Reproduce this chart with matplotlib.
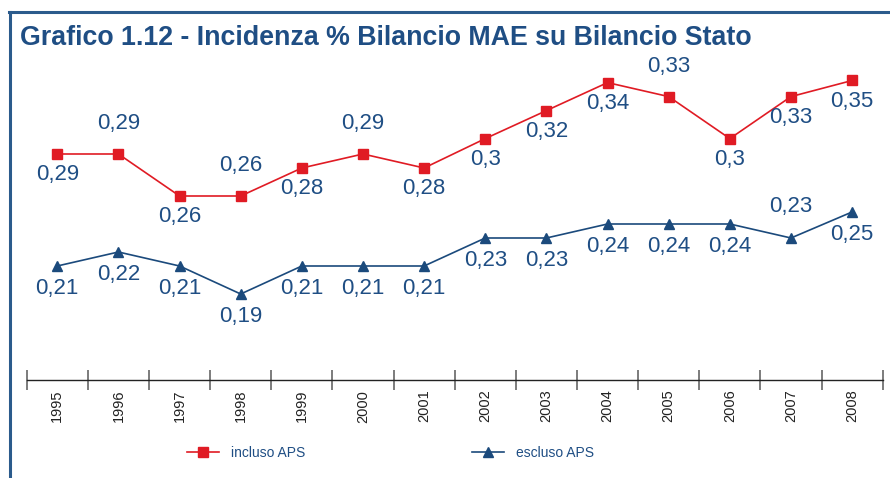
import matplotlib.pyplot as plt
from matplotlib.lines import Line2D

years = ["1995", "1996", "1997", "1998", "1999", "2000", "2001",
         "2002", "2003", "2004", "2005", "2006", "2007", "2008"]

incluso = [0.29, 0.29, 0.26, 0.26, 0.28, 0.29, 0.28,
           0.301, 0.321, 0.341, 0.331, 0.301, 0.331, 0.3425]
incluso_labels = ["0,29", "0,29", "0,26", "0,26", "0,28", "0,29", "0,28",
                  "0,3", "0,32", "0,34", "0,33", "0,3", "0,33", "0,35"]
incluso_above = [False, True, False, True, False, True, False,
                 False, False, False, True, False, False, False]

escluso = [0.21, 0.22, 0.21, 0.19, 0.21, 0.21, 0.21,
           0.23, 0.23, 0.24, 0.24, 0.24, 0.23, 0.2486]
escluso_labels = ["0,21", "0,22", "0,21", "0,19", "0,21", "0,21", "0,21",
                  "0,23", "0,23", "0,24", "0,24", "0,24", "0,23", "0,25"]
escluso_above = [False] * 12 + [True, False]

RED = "#e01b24"
BLUE = "#1b4a7c"
TEXT = "#1f4e84"
W, H = 890, 478

plt.rcParams['font.family'] = ['Liberation Sans', 'DejaVu Sans']

fig = plt.figure(figsize=(W / 100, H / 100), dpi=100)

# frame lines (top and left)
fig.add_artist(Line2D([9 / W, 1], [1 - 12 / H, 1 - 12 / H], color="#2b5b8c", lw=2.2))
fig.add_artist(Line2D([10 / W, 10 / W], [0, 1 - 12 / H], color="#2b5b8c", lw=2.2))

fig.text(20 / W, 1 - 38 / H, "Grafico 1.12 - Incidenza % Bilancio MAE su Bilancio Stato",
         fontsize=19.3, fontweight="bold", color=TEXT, va="center", ha="left")

ax_l, ax_r = 26.7 / W, 882.7 / W
ax_b, ax_t = 1 - 380 / H, 1 - 60 / H
ax = fig.add_axes([ax_l, ax_b, ax_r - ax_l, ax_t - ax_b])

x = list(range(len(years)))
ax.plot(x, incluso, color=RED, lw=1.2, marker="s", ms=7, label="incluso APS")
ax.plot(x, escluso, color=BLUE, lw=1.2, marker="^", ms=7.5, label="escluso APS")

for xi, v, lab, up in zip(x, incluso, incluso_labels, incluso_above):
    ax.annotate(lab, (xi, v), xytext=(0, 30 if up else -21), textcoords="offset pixels",
                ha="center", va="center", fontsize=16, color=TEXT)
for xi, v, lab, up in zip(x, escluso, escluso_labels, escluso_above):
    ax.annotate(lab, (xi, v), xytext=(0, 31 if up else -23), textcoords="offset pixels",
                ha="center", va="center", fontsize=16, color=TEXT)

ax.set_xlim(-0.5, len(years) - 0.5)
ax.set_ylim(0.12857, 0.35714)
for s in ["top", "right", "left"]:
    ax.spines[s].set_visible(False)
ax.spines["bottom"].set_color("#222222")
ax.spines["bottom"].set_linewidth(1.0)
ax.set_yticks([])

ax.set_xticks([i - 0.5 for i in range(len(years) + 1)])
ax.set_xticklabels([])
ax.tick_params(axis="x", which="major", direction="inout", length=14, color="#666666", width=1.2)
ax.set_xticks(x, minor=True)
ax.set_xticklabels(years, minor=True, rotation=90, fontsize=10.5, color="#222222")
ax.tick_params(axis="x", which="minor", length=0, pad=7)

handles, labels = ax.get_legend_handles_labels()
leg = fig.legend(handles, labels, loc="center left", bbox_to_anchor=(187 / W, 1 - 453 / H),
                 ncol=2, frameon=False, fontsize=10, handlelength=2.3, handletextpad=0.85,
                 columnspacing=12.05, borderaxespad=0, borderpad=0)
for t in leg.get_texts():
    t.set_color(TEXT)

fig.savefig("out.png", dpi=100)
